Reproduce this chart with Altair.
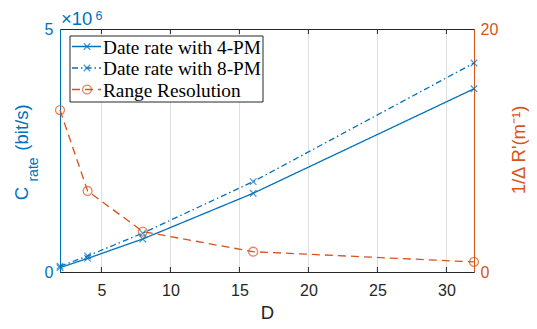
import altair as alt
import pandas as pd

# ---- data ----
D = [2, 4, 8, 16, 32]
rate_4pm = [0.09e6, 0.28e6, 0.68e6, 1.62e6, 3.77e6]
rate_8pm = [0.12e6, 0.33e6, 0.80e6, 1.86e6, 4.30e6]
range_res = [13.33, 6.67, 3.33, 1.67, 0.83]
x_ticks = [5, 10, 15, 20, 25, 30]
left_ticks = [0, 5e6]
right_ticks = [0, 20]
legend_labels = ["Date rate with 4-PM", "Date rate with 8-PM", "Range Resolution"]

BLUE = "#0072BD"
ORANGE = "#D95319"
DARK = "#262626"
W, H = 414, 243

df = pd.DataFrame({"D": D, "C4": rate_4pm, "C8": rate_8pm, "R": range_res})
long = pd.concat([
    pd.DataFrame({"D": D, "C": rate_4pm, "series": "4-PM"}),
    pd.DataFrame({"D": D, "C": rate_8pm, "series": "8-PM"}),
])

XMARK = "M-1,-1L1,1M-1,1L1,-1"

xscale = alt.Scale(domain=[2, 32], nice=False, zero=False)
xaxis = alt.Axis(values=x_ticks, title="D", grid=True, gridColor=DARK, gridOpacity=0.15,
                 tickSize=0, labelPadding=10, labelFontSize=16, labelColor=DARK,
                 titleFontSize=18.5, titleColor=DARK, titleFontWeight="normal", titlePadding=5,
                 domainColor=DARK, labelFont="Liberation Sans", titleFont="Liberation Sans")
x = alt.X("D:Q", scale=xscale, axis=xaxis)

lscale = alt.Scale(domain=[0, 5e6], nice=False)
laxis = alt.Axis(values=left_ticks, title=None, grid=False, tickSize=0, labelPadding=7,
                 labelExpr="datum.value / 1000000", labelFontSize=16, labelColor=BLUE,
                 domainColor=BLUE, labelFont="Liberation Sans")
yl = alt.Y("C:Q", scale=lscale, axis=laxis)

dash = alt.StrokeDash("series:N", scale=alt.Scale(domain=["4-PM", "8-PM"], range=[[1, 0], [6, 3, 1.5, 3]]), legend=None)

left_lines = alt.Chart(long).mark_line(color=BLUE, strokeWidth=1.3).encode(
    x=x, y=yl, strokeDash=dash, detail="series:N")
left_pts = alt.Chart(long).mark_point(shape=XMARK, size=42, color=BLUE, filled=False, strokeWidth=1.3).encode(
    x=x, y=yl)

# ticks inside the box
tick_df = pd.DataFrame({"D": x_ticks})
ticks_bottom = alt.Chart(tick_df).mark_rule(color=DARK, strokeWidth=1).encode(
    x=x, y=alt.value(H - 5), y2=alt.value(H))
ticks_top = alt.Chart(tick_df).mark_rule(color=DARK, strokeWidth=1).encode(
    x=x, y=alt.value(0), y2=alt.value(5))


def txt(s, xv, yv, size, color, angle=0, align="center", baseline="middle", font="Liberation Sans"):
    kw = dict(fontSize=size, color=color, align=align, baseline=baseline, font=font)
    if angle:
        kw["angle"] = angle
    return alt.Chart(pd.DataFrame({"t": [s]})).mark_text(**kw).encode(
        text="t:N", x=alt.value(xv), y=alt.value(yv))


annot = [
    txt("×10", 1, -4, 18.5, BLUE, align="left", baseline="alphabetic"),
    txt("6", 35.5, -9.5, 12.5, BLUE, align="left", baseline="alphabetic"),
    txt("C", -32, 164.5, 18.5, BLUE, angle=270, baseline="alphabetic"),
    txt("rate", -22, 140.5, 14, BLUE, angle=270, baseline="alphabetic"),
    txt("(bit/s)", -32, 98.5, 18.5, BLUE, angle=270, baseline="alphabetic"),
    txt("1/Δ R'(m⁻¹)", 465, 121, 18.5, ORANGE, angle=270, baseline="alphabetic"),
]

left = alt.layer(left_lines, left_pts, ticks_bottom, ticks_top, *annot)

rscale = alt.Scale(domain=[0, 20], nice=False)
raxis = alt.Axis(values=right_ticks, title=None, orient="right", grid=False, tickSize=0, labelPadding=6,
                 labelFontSize=16, labelColor=ORANGE, domainColor=ORANGE, labelFont="Liberation Sans")
yr = alt.Y("R:Q", scale=rscale, axis=raxis)
r_line = alt.Chart(df).mark_line(color=ORANGE, strokeWidth=1.3, strokeDash=[8, 5]).encode(x=x, y=yr)
r_pts = alt.Chart(df).mark_point(shape="circle", size=80, color=ORANGE, filled=False, strokeWidth=1.3).encode(
    x=x, y=yr)

# ---- legend box ----
one = pd.DataFrame({"a": [0]})
box = alt.Chart(one).mark_rect(fill="white", stroke=DARK, strokeWidth=1).encode(
    x=alt.value(10), x2=alt.value(203), y=alt.value(7), y2=alt.value(73))
leg = [box]
rows = [17.5, 39, 60.5]
styles = [(BLUE, [1, 0], XMARK, 42), (BLUE, [6, 3, 1.5, 3], XMARK, 42), (ORANGE, [8, 5], "circle", 80)]
for lab, yv, (col, dsh, shp, sz) in zip(legend_labels, rows, styles):
    leg.append(alt.Chart(one).mark_rule(color=col, strokeWidth=1.3, strokeDash=dsh).encode(
        x=alt.value(12), x2=alt.value(41), y=alt.value(yv)))
    leg.append(alt.Chart(one).mark_point(shape=shp, size=sz, color=col, filled=False, strokeWidth=1.3).encode(
        x=alt.value(27), y=alt.value(yv)))
    leg.append(txt(lab, 43, yv + 1, 19.3, "black", align="left", font="Liberation Serif"))

right = alt.layer(r_line, r_pts, *leg)

chart = alt.layer(left, right).resolve_scale(y="independent").properties(
    width=W, height=H,
    background="white",
    autosize=alt.AutoSizeParams(type="none"),
    padding={"left": 52, "top": 21, "right": 55, "bottom": 49},
).configure_view(stroke=DARK, strokeWidth=1)

chart.save("out.html", embed_options={"renderer": "svg", "actions": False})
